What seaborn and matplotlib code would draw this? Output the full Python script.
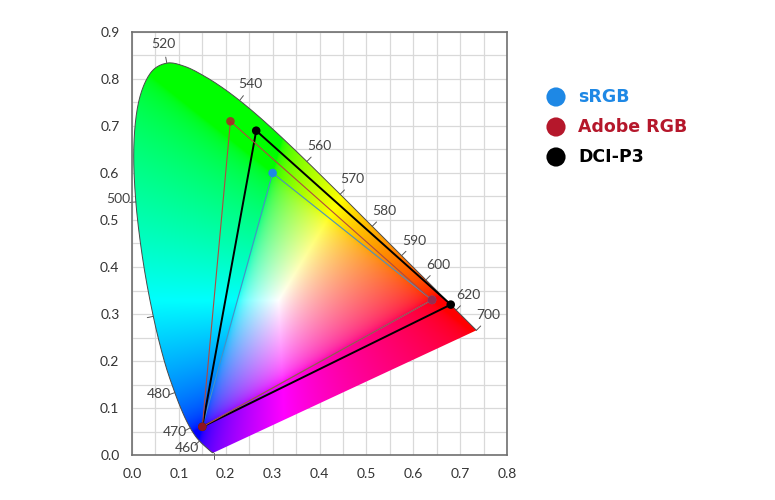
import matplotlib
matplotlib.use("Agg")
import matplotlib.pyplot as plt
import seaborn as sns
import numpy as np
import pandas as pd
from matplotlib.path import Path
from matplotlib.patches import PathPatch

# CIE 1931 2-degree spectral locus, 5 nm steps
locus_nm = list(range(380, 705, 5))
locus_x = [0.1741, 0.1740, 0.1738, 0.1736, 0.1733, 0.1730, 0.1726, 0.1721, 0.1714, 0.1703,
           0.1689, 0.1669, 0.1644, 0.1611, 0.1566, 0.1510, 0.1440, 0.1355, 0.1241, 0.1096,
           0.0913, 0.0687, 0.0454, 0.0235, 0.0082, 0.0039, 0.0139, 0.0389, 0.0743, 0.1142,
           0.1547, 0.1929, 0.2296, 0.2658, 0.3016, 0.3373, 0.3731, 0.4087, 0.4441, 0.4788,
           0.5125, 0.5448, 0.5752, 0.6029, 0.6270, 0.6482, 0.6658, 0.6801, 0.6915, 0.7006,
           0.7079, 0.7140, 0.7190, 0.7230, 0.7260, 0.7283, 0.7300, 0.7311, 0.7320, 0.7327,
           0.7334, 0.7340, 0.7344, 0.7346, 0.7347]
locus_y = [0.0050, 0.0050, 0.0049, 0.0049, 0.0048, 0.0048, 0.0048, 0.0048, 0.0051, 0.0058,
           0.0069, 0.0086, 0.0109, 0.0138, 0.0177, 0.0227, 0.0297, 0.0399, 0.0578, 0.0868,
           0.1327, 0.2007, 0.2950, 0.4127, 0.5384, 0.6548, 0.7502, 0.8120, 0.8338, 0.8262,
           0.8059, 0.7816, 0.7543, 0.7243, 0.6923, 0.6589, 0.6245, 0.5896, 0.5547, 0.5202,
           0.4866, 0.4544, 0.4242, 0.3965, 0.3725, 0.3514, 0.3340, 0.3197, 0.3083, 0.2993,
           0.2920, 0.2859, 0.2809, 0.2770, 0.2740, 0.2717, 0.2700, 0.2689, 0.2680, 0.2673,
           0.2666, 0.2660, 0.2656, 0.2654, 0.2653]

tick_nm = [380, 460, 470, 480, 490, 500, 520, 540, 560, 570, 580, 590, 600, 620, 700]
label_nm = [460, 470, 480, 500, 520, 540, 560, 570, 580, 590, 600, 620, 700]

gamut_names = ["sRGB", "Adobe RGB", "DCI-P3"]
srgb_x = [0.64, 0.30, 0.15]
srgb_y = [0.33, 0.60, 0.06]
adobe_x = [0.64, 0.21, 0.15]
adobe_y = [0.33, 0.71, 0.06]
dci_x = [0.680, 0.265, 0.150]
dci_y = [0.320, 0.690, 0.060]

x_ticks = [0.0, 0.1, 0.2, 0.3, 0.4, 0.5, 0.6, 0.7, 0.8]
y_ticks = [0.0, 0.1, 0.2, 0.3, 0.4, 0.5, 0.6, 0.7, 0.8, 0.9]

gamut_color = {"sRGB": "#1e88e5", "Adobe RGB": "#b5172b", "DCI-P3": "#000000"}
line_color = {"sRGB": "#4b8fc4", "Adobe RGB": "#b04a40", "DCI-P3": "#000000"}
line_width = {"sRGB": 0.8, "Adobe RGB": 0.8, "DCI-P3": 1.4}


def catmull_rom(xs, ys, steps=12):
    # smooth curve through the locus points
    P = np.column_stack([xs, ys])
    P = np.vstack([P[0], P, P[-1]])
    out = []
    for i in range(1, len(P) - 2):
        p0, p1, p2, p3 = P[i - 1], P[i], P[i + 1], P[i + 2]
        for t in np.linspace(0, 1, steps, endpoint=False):
            t2, t3 = t * t, t * t * t
            out.append(0.5 * ((2 * p1) + (-p0 + p2) * t
                              + (2 * p0 - 5 * p1 + 4 * p2 - p3) * t2
                              + (-p0 + 3 * p1 - 3 * p2 + p3) * t3))
    out.append(P[-2])
    return np.array(out)


sns.set_theme(style="white")
plt.rcParams['font.family'] = ['Lato', 'DejaVu Sans']

fig = plt.figure(figsize=(7.75, 5), dpi=100)
ax = fig.add_axes([132 / 775, 45 / 500, 375 / 775, 423 / 500])

smooth = catmull_rom(locus_x, locus_y)

# colour fill of the horseshoe
gx = np.linspace(0, 0.8, 480)
gy = np.linspace(0, 0.9, 540)
X, Y = np.meshgrid(gx, gy)
Yc = np.clip(Y, 1e-4, None)
XYZ = np.stack([X / Yc, np.ones_like(X), (1 - X - Yc) / Yc], axis=-1)
M = np.array([[3.2406, -1.5372, -0.4986],
              [-0.9689, 1.8758, 0.0415],
              [0.0557, -0.2040, 1.0570]])
rgb = XYZ @ M.T
rgb = np.clip(rgb, 0, None)
rgb = rgb / np.maximum(rgb.max(axis=-1, keepdims=True), 1e-9)
rgb = np.where(rgb <= 0.0031308, 12.92 * rgb, 1.055 * rgb ** (1 / 2.4) - 0.055)
rgb = np.clip(rgb, 0, 1)

poly = np.vstack([smooth, smooth[:1]])
patch = PathPatch(Path(poly), facecolor="none", edgecolor="none", transform=ax.transData)
ax.add_patch(patch)
img = ax.imshow(rgb, origin="lower", extent=(0, 0.8, 0, 0.9), aspect="auto",
                interpolation="bilinear", zorder=1)
img.set_clip_path(patch)

# spectral locus outline
locus_df = pd.DataFrame({"x": smooth[:, 0], "y": smooth[:, 1]})
sns.lineplot(data=locus_df, x="x", y="y", sort=False, estimator=None, ax=ax,
             color="#4a4a4a", lw=0.7, zorder=2)

# wavelength ticks and labels
nm = np.array(locus_nm, dtype=float)
lx = np.array(locus_x)
ly = np.array(locus_y)
for w in tick_nm:
    px, py = np.interp(w, nm, lx), np.interp(w, nm, ly)
    a, b = max(w - 5, 380), min(w + 5, 700)
    tx = np.interp(b, nm, lx) - np.interp(a, nm, lx)
    ty = np.interp(b, nm, ly) - np.interp(a, nm, ly)
    n = np.hypot(tx, ty)
    nx, ny = -ty / n, tx / n
    ax.plot([px, px + nx * 0.013], [py, py + ny * 0.013], color="#555555", lw=0.7,
            zorder=2, clip_on=False)
    if w in label_nm:
        ax.text(px + nx * 0.037, py + ny * 0.034 + 0.008, str(w), ha="center",
                va="center", fontsize=10, color="#444444", zorder=3, clip_on=False)

# gamut triangles
tri = [("sRGB", srgb_x, srgb_y), ("DCI-P3", dci_x, dci_y), ("Adobe RGB", adobe_x, adobe_y)]
for name, xs, ys in tri:
    df = pd.DataFrame({"x": xs + [xs[0]], "y": ys + [ys[0]]})
    sns.lineplot(data=df, x="x", y="y", sort=False, estimator=None, ax=ax,
                 color=line_color[name], lw=line_width[name], zorder=4)
for name, xs, ys in tri:
    df = pd.DataFrame({"x": xs, "y": ys})
    sns.scatterplot(data=df, x="x", y="y", ax=ax, color=gamut_color[name], s=38,
                    edgecolor="none", alpha=0.8 if name == "Adobe RGB" else 1.0, zorder=5)

ax.set_xlim(0, 0.8)
ax.set_ylim(0, 0.9)
ax.set_xticks(x_ticks)
ax.set_yticks(y_ticks)
ax.set_xticklabels([f"{v:.1f}" for v in x_ticks])
ax.set_yticklabels([f"{v:.1f}" for v in y_ticks])
ax.set_xticks(np.arange(0.05, 0.8, 0.1), minor=True)
ax.set_yticks(np.arange(0.05, 0.9, 0.1), minor=True)
ax.set_axisbelow(True)
ax.grid(True, which="both", color="#d9d9d9", lw=0.9)
ax.tick_params(which="both", length=0, labelsize=10, labelcolor="#333333", pad=9)
ax.set_xlabel("")
ax.set_ylabel("")
for sp in ax.spines.values():
    sp.set_color("#6f6f6f")
    sp.set_linewidth(1.2)
    sp.set_zorder(6)

# legend
lg = fig.add_axes([0, 0, 1, 1])
lg.set_xlim(0, 775)
lg.set_ylim(500, 0)
lg.axis("off")
for i, name in enumerate(gamut_names):
    yy = 97 + i * 30
    lg.scatter([556], [yy], s=190, color=gamut_color[name], edgecolor="none")
    lg.text(578, yy, name, color=gamut_color[name], fontsize=12.5, fontweight="bold",
            va="center", ha="left", family=["DejaVu Sans"])

fig.savefig("out.png", dpi=100)
